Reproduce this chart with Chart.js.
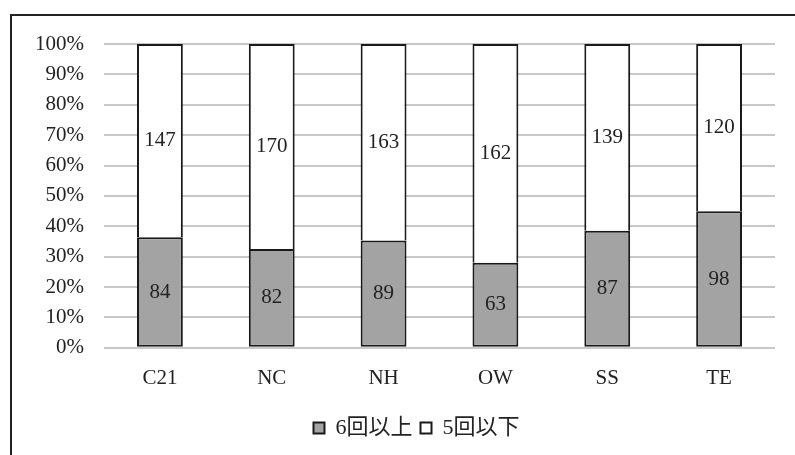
<!DOCTYPE html>
<html><head><meta charset="utf-8">
<script src="https://cdn.jsdelivr.net/npm/chart.js@4"></script>
<style>
html,body{margin:0;padding:0;background:#fff;overflow:hidden;width:795px;height:455px;}
#box{position:absolute;left:10px;top:14px;width:806px;height:460px;border:2px solid #222;overflow:hidden;background:#fff;}
#c{position:absolute;left:0;top:0;}
</style></head>
<body>
<div id="box"><canvas id="c" width="806" height="433"></canvas></div>
<script>
const categories = ['C21','NC','NH','OW','SS','TE'];
const over6 = [84, 82, 89, 63, 87, 98];
const under5 = [147, 170, 163, 162, 139, 120];
const seriesNames = ['6回以上','5回以下'];
const yTicks = [0,10,20,30,40,50,60,70,80,90,100];

const totals = categories.map((_, i) => over6[i] + under5[i]);
const pct = arr => arr.map((v, i) => v / totals[i] * 100);
const counts = [over6, under5];

const serif = '"Liberation Serif", "Noto Sans CJK JP", serif';

const labelPlugin = {
  id: 'barLabels',
  afterDatasetsDraw(chart) {
    const ctx = chart.ctx;
    ctx.save();
    ctx.font = '21px ' + serif;
    ctx.fillStyle = '#222';
    ctx.textAlign = 'center';
    ctx.textBaseline = 'middle';
    chart.data.datasets.forEach((ds, di) => {
      const meta = chart.getDatasetMeta(di);
      meta.data.forEach((el, i) => {
        const p = el.getProps(['x','y','base'], true);
        ctx.fillText(String(counts[di][i]), p.x, (p.y + p.base) / 2);
      });
    });
    ctx.restore();
  }
};

new Chart(document.getElementById('c'), {
  type: 'bar',
  data: {
    labels: categories,
    datasets: [
      { label: seriesNames[0], data: pct(over6), backgroundColor: '#a3a3a3', borderColor: '#1a1a1a', borderWidth: 2, borderSkipped: false },
      { label: seriesNames[1], data: pct(under5), backgroundColor: '#ffffff', borderColor: '#1a1a1a', borderWidth: 2, borderSkipped: 'start' }
    ]
  },
  options: {
    responsive: false,
    animation: false,
    devicePixelRatio: 1,
    layout: { padding: { left: 3, right: 0, top: 28, bottom: 0 } },
    datasets: { bar: { categoryPercentage: 1.0, barPercentage: 0.41 } },
    scales: {
      x: {
        stacked: true,
        grid: { display: false, drawTicks: false },
        border: { display: false },
        ticks: { color: '#222', font: { family: serif, size: 21 }, padding: 18 }
      },
      y: {
        stacked: true,
        min: 0, max: 100,
        afterBuildTicks: axis => { axis.ticks = yTicks.map(v => ({ value: v })); },
        afterFit: a => { a.paddingTop = 12; a.paddingBottom = 12; },
        grid: { color: '#c8c8c8', lineWidth: 2, drawTicks: false },
        border: { display: false },
        ticks: { color: '#222', font: { family: serif, size: 21 }, padding: 20, callback: v => v + '%' }
      },
      yRight: {
        position: 'right',
        min: 0, max: 100,
        grid: { display: false, drawTicks: false },
        border: { display: false },
        ticks: { display: false },
        afterFit: a => { a.width = 43; a.paddingTop = 0; a.paddingBottom = 0; }
      }
    },
    plugins: {
      legend: {
        position: 'bottom',
        labels: {
          color: '#222',
          font: { family: serif, size: 22 },
          boxWidth: 11, boxHeight: 11, padding: 8,
          generateLabels: chart => chart.data.datasets.map((ds, i) => ({
            text: ds.label, fillStyle: ds.backgroundColor, strokeStyle: '#1a1a1a', lineWidth: 2, datasetIndex: i, fontColor: '#222'
          }))
        }
      },
      tooltip: { enabled: false }
    }
  },
  plugins: [labelPlugin]
});
</script>
</body></html>
